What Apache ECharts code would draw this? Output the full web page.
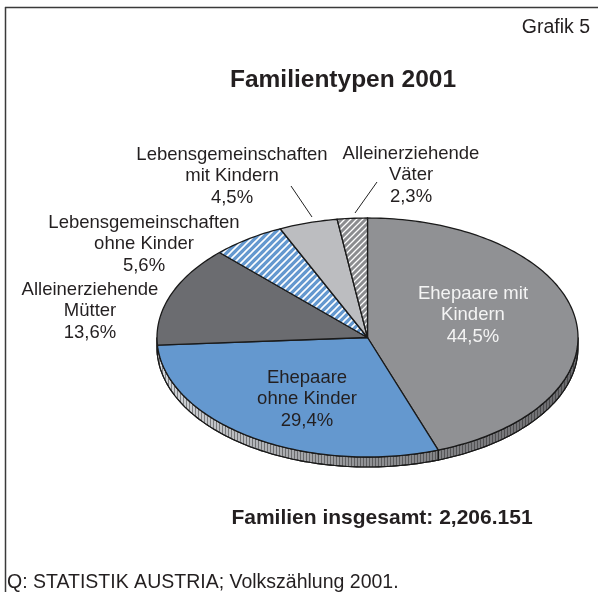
<!DOCTYPE html>
<html><head><meta charset="utf-8">
<script src="https://cdn.jsdelivr.net/npm/echarts@6/dist/echarts.min.js"></script>
<style>html,body{margin:0;padding:0;background:#fff}#c{width:598px;height:592px}</style>
</head><body><div id="c"></div>
<script>
// ---- data ----
const categories = ['Ehepaare mit Kindern', 'Ehepaare ohne Kinder', 'Alleinerziehende Mütter',
  'Lebensgemeinschaften ohne Kinder', 'Lebensgemeinschaften mit Kindern', 'Alleinerziehende Väter'];
const values = [44.5, 29.4, 13.6, 5.6, 4.5, 2.3];
const labelNames = ['Ehepaare mit\nKindern', 'Ehepaare\nohne Kinder', 'Alleinerziehende\nMütter',
  'Lebensgemeinschaften\nohne Kinder', 'Lebensgemeinschaften\nmit Kindern', 'Alleinerziehende\nVäter'];
const titleText = 'Familientypen 2001';
const grafikText = 'Grafik 5';
const totalText = 'Familien insgesamt: 2,206.151';
const sourceText = 'Q: STATISTIK AUSTRIA; Volkszählung 2001.';

// ---- styling / layout ----
const FONT = '"Liberation Sans", Arial, Helvetica, sans-serif';
const TXT = '#231f20';
const DEPTH = 10;
function hatch(bg, fg, size, lw) {
  const c = document.createElement('canvas'); c.width = c.height = size;
  const g = c.getContext('2d');
  g.fillStyle = bg; g.fillRect(0, 0, size, size);
  g.strokeStyle = fg; g.lineWidth = lw; g.beginPath();
  g.moveTo(-1, size + 1); g.lineTo(size + 1, -1);
  g.moveTo(-1, 1); g.lineTo(1, -1);
  g.moveTo(size - 1, size + 1); g.lineTo(size + 1, size - 1);
  g.stroke();
  return { image: c, repeat: 'repeat' };
}
function stripes() {
  const c = document.createElement('canvas'); c.width = 3; c.height = 4;
  const g = c.getContext('2d');
  g.clearRect(0, 0, 3, 4);
  g.fillStyle = 'rgba(30,30,30,0.45)'; g.fillRect(0, 0, 1, 4);
  return { image: c, repeat: 'repeat' };
}
const fills = ['#909194', '#6498cf', '#6b6c70', hatch('#6498cf', '#ffffff', 7, 1.6), '#bcbdc0', hatch('#8b8c8f', '#ffffff', 6, 1.3)];
const labelLayout = [
  { x: 473, y: 315, color: '#f4f4f4' },
  { x: 307, y: 399, color: TXT },
  { x: 90, y: 311, color: TXT },
  { x: 144, y: 244, color: TXT },
  { x: 232, y: 176, color: TXT },
  { x: 411, y: 175, color: TXT }
];
const leaders = [[[291, 186], [312, 217]], [[377, 182], [355, 213]]];

// ---- build slices ----
const total = values.reduce((a, b) => a + b, 0);
let acc = 0;
const sliceData = values.map((v, i) => { const s = acc / total; acc += v; return [s, acc / total, i]; });

function arcPts(api, s, e) {
  const steps = Math.max(6, Math.ceil((e - s) * 300));
  const pts = [];
  for (let k = 0; k <= steps; k++) {
    const t = 2 * Math.PI * (s + (e - s) * k / steps);
    pts.push(api.coord([Math.sin(t), Math.cos(t)]));
  }
  return pts;
}

const fmt = v => v.toFixed(1).replace('.', ',') + '%';
const graphics = [
  { type: 'line', shape: { x1: 5.5, y1: 7, x2: 5.5, y2: 600 }, style: { stroke: '#3a3a3a', lineWidth: 1.5 } },
  { type: 'line', shape: { x1: 5, y1: 7.5, x2: 600, y2: 7.5 }, style: { stroke: '#3a3a3a', lineWidth: 1.5 } },
  { type: 'text', x: 590, y: 28, style: { text: grafikText, font: '19.5px ' + FONT, fill: TXT, textAlign: 'right', textVerticalAlign: 'middle' } },
  { type: 'text', x: 343, y: 80, style: { text: titleText, font: 'bold 24.5px ' + FONT, fill: TXT, textAlign: 'center', textVerticalAlign: 'middle' } },
  { type: 'text', x: 382, y: 518, style: { text: totalText, font: 'bold 21px ' + FONT, fill: TXT, textAlign: 'center', textVerticalAlign: 'middle' } },
  { type: 'text', x: 7, y: 583, style: { text: sourceText, font: '19.5px ' + FONT, fill: TXT, textAlign: 'left', textVerticalAlign: 'middle' } }
];
values.forEach((v, i) => {
  const L = labelLayout[i];
  graphics.push({ type: 'text', x: L.x, y: L.y, z: 10, style: { text: labelNames[i] + '\n' + fmt(v), font: '18.5px ' + FONT, lineHeight: 21.5, fill: L.color, textAlign: 'center', textVerticalAlign: 'middle' } });
});
leaders.forEach(l => graphics.push({ type: 'line', z: 10, shape: { x1: l[0][0], y1: l[0][1], x2: l[1][0], y2: l[1][1] }, style: { stroke: '#222', lineWidth: 1 } }));

const chart = echarts.init(document.getElementById('c'), null, { renderer: 'canvas' });
chart.setOption({
  animation: false,
  backgroundColor: '#ffffff',
  grid: { left: 157, top: 218, width: 421, height: 239 },
  xAxis: { type: 'value', min: -1, max: 1, show: false },
  yAxis: { type: 'value', min: -1, max: 1, show: false },
  graphic: graphics,
  series: [
    { // rim (side of the disc)
      type: 'custom', name: 'rim', clip: false, z: 2,
      data: sliceData,
      encode: { x: -1, y: -1 },
      renderItem(params, api) {
        const s = Math.max(api.value(0), 0.25), e = Math.min(api.value(1), 0.75);
        if (e <= s) return null;
        const top = arcPts(api, s, e);
        const bot = top.slice().reverse().map(p => [p[0], p[1] + DEPTH]);
        const shape = { points: top.concat(bot) };
        return { type: 'group', children: [
          { type: 'polygon', shape, style: { fill: { type: 'linear', x: 157, y: 0, x2: 578, y2: 0, global: true,
            colorStops: [{ offset: 0, color: '#d3d6da' }, { offset: 0.5, color: '#909194' }, { offset: 1, color: '#6a6a6d' }] }, stroke: '#1a1a1a', lineWidth: 1.1 } },
          { type: 'polygon', shape, style: { fill: stripes(), stroke: '#1a1a1a', lineWidth: 1.1 } }
        ] };
      }
    },
    { // top surface slices
      type: 'custom', name: 'Familientypen', clip: false, z: 3,
      data: sliceData.map((d, i) => ({ value: d, name: categories[i] })),
      encode: { x: -1, y: -1 },
      renderItem(params, api) {
        const s = api.value(0), e = api.value(1), i = api.value(2);
        const pts = [api.coord([0, 0])].concat(arcPts(api, s, e));
        return { type: 'polygon', shape: { points: pts }, style: { fill: fills[i], stroke: '#1a1a1a', lineWidth: 1.3, lineJoin: 'round' } };
      }
    }
  ]
});
</script></body></html>
